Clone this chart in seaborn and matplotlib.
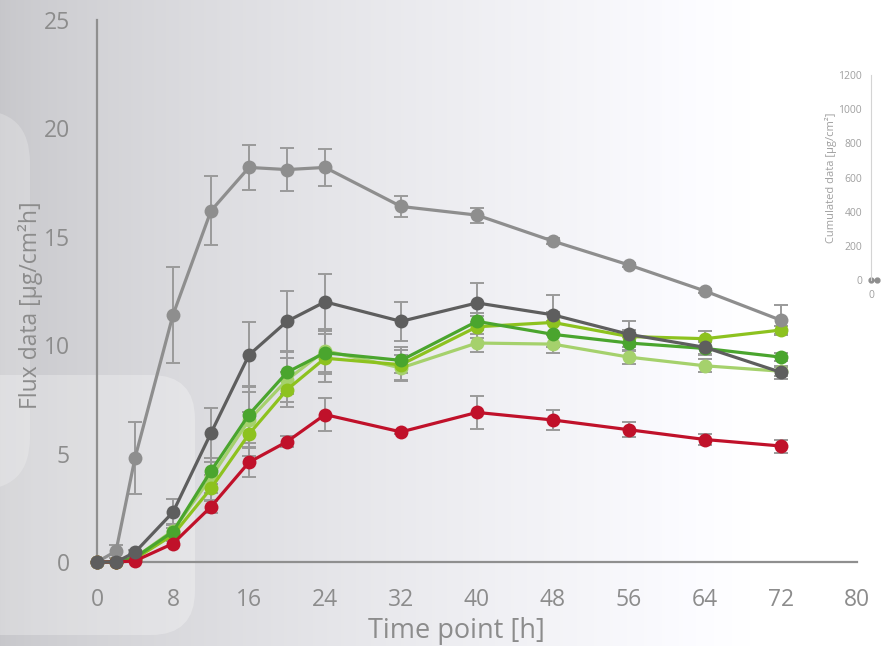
import numpy as np
import pandas as pd
import matplotlib
matplotlib.use("Agg")
import matplotlib.pyplot as plt
from matplotlib.patches import FancyBboxPatch
import seaborn as sns

# ---------------- data ----------------
time_h = [0, 2, 4, 8, 12, 16, 20, 24, 32, 40, 48, 56, 64, 72]

light_gray = [0, 0.5, 4.8, 11.4, 16.2, 18.2, 18.1, 18.2, 16.4, 16.0, 14.8, 13.7, 12.5, 11.15]
light_gray_err = [0, 0.3, 1.65, 2.2, 1.6, 1.05, 1.0, 0.85, 0.5, 0.35, 0.15, 0.1, 0.1, 0.7]

dark_gray = [0, 0, 0.45, 2.3, 5.95, 9.55, 11.1, 12.0, 11.1, 11.95, 11.4, 10.5, 9.9, 8.75]
dark_gray_err = [0, 0, 0.1, 0.6, 1.15, 1.5, 1.4, 1.3, 0.9, 0.9, 0.9, 0.6, 0.3, 0.3]

green = [0, 0, 0.2, 1.4, 4.2, 6.8, 8.75, 9.65, 9.3, 11.1, 10.5, 10.1, 9.85, 9.45]
green_err = [0, 0, 0.1, 0.3, 0.6, 1.3, 1.0, 1.0, 0.6, 0.4, 0.6, 0.3, 0.3, 0.2]

light_green = [0, 0, 0.2, 1.45, 3.9, 6.55, 8.4, 9.75, 8.95, 10.1, 10.05, 9.45, 9.05, 8.8]
light_green_err = [0, 0, 0.1, 0.3, 0.7, 1.3, 1.0, 1.0, 0.6, 0.4, 0.4, 0.3, 0.3, 0.2]

yellow_green = [0, 0, 0.15, 1.25, 3.4, 5.9, 7.95, 9.4, 9.1, 10.85, 11.05, 10.4, 10.3, 10.7]
yellow_green_err = [0, 0, 0.1, 0.3, 0.6, 1.0, 0.8, 1.1, 0.7, 0.5, 0.5, 0.3, 0.35, 0.2]

red = [0, 0, 0.05, 0.85, 2.55, 4.6, 5.55, 6.8, 6.0, 6.9, 6.55, 6.1, 5.65, 5.35]
red_err = [0, 0, 0, 0.1, 0.3, 0.7, 0.25, 0.78, 0.1, 0.75, 0.45, 0.35, 0.25, 0.3]

# inset (cumulated data), only the visible first points
cum_time = [0, 2]
cum_values = [0, 0]

x_ticks = [0, 8, 16, 24, 32, 40, 48, 56, 64, 72, 80]
y_ticks = [0, 5, 10, 15, 20, 25]
inset_ticks = [0, 200, 400, 600, 800, 1000, 1200]

series = {
    "light_green": (light_green, light_green_err, "#a5d16c"),
    "yellow_green": (yellow_green, yellow_green_err, "#8dc21f"),
    "green": (green, green_err, "#4aa52e"),
    "red": (red, red_err, "#c0112a"),
    "light_gray": (light_gray, light_gray_err, "#8e8e8e"),
    "dark_gray": (dark_gray, dark_gray_err, "#5e5e5e"),
}

rows = []
for name, (vals, errs, col) in series.items():
    for t, v in zip(time_h, vals):
        rows.append({"t": t, "flux": v, "series": name})
df = pd.DataFrame(rows)

# ---------------- figure ----------------
sns.set_theme(style="white")
plt.rcParams["font.family"] = ["Open Sans", "DejaVu Sans"]

W, H = 882, 646
fig = plt.figure(figsize=(W / 100, H / 100), dpi=100)

# background gradient
bg = fig.add_axes([0, 0, 1, 1], zorder=-10)
xs = np.linspace(0, 1, 600)
v = 0.78 + 0.22 * np.clip(xs / 0.85, 0, 1) ** 0.75
grad = np.zeros((2, 600, 3))
grad[..., 0] = v
grad[..., 1] = v
grad[..., 2] = np.clip(v + 0.015, 0, 1)
bg.imshow(grad, aspect="auto", extent=[0, 1, 0, 1], origin="lower")
bg.add_patch(FancyBboxPatch((-0.1, 1 - 490 / H), 0.1 + 30 / W, (490 - 110) / H,
                            boxstyle="round,pad=0,rounding_size=0.06",
                            fc="white", ec="none", alpha=0.22, mutation_aspect=W / H))
bg.add_patch(FancyBboxPatch((-0.1, 1 - 635 / H), 0.1 + 195 / W, (635 - 375) / H,
                            boxstyle="round,pad=0,rounding_size=0.05",
                            fc="white", ec="none", alpha=0.28, mutation_aspect=W / H))
bg.set_xlim(0, 1)
bg.set_ylim(0, 1)
bg.axis("off")

ax = fig.add_axes([97 / W, 1 - 562 / H, (857 - 97) / W, (562 - 20) / H])
ax.set_facecolor("none")

# error bars
for name, (vals, errs, col) in series.items():
    ax.errorbar(time_h, vals, yerr=errs, fmt="none", ecolor="#9a9a9a",
                elinewidth=1.4, capsize=5, capthick=1.4, zorder=1, clip_on=False)

palette = {k: v[2] for k, v in series.items()}
sns.lineplot(data=df, x="t", y="flux", hue="series", hue_order=list(series.keys()),
             palette=palette, marker="o", markersize=10, markeredgewidth=0,
             linewidth=2.3, legend=False, ax=ax, zorder=3, clip_on=False)

ax.set_xlim(0, 80)
ax.set_ylim(0, 25)
ax.set_xticks(x_ticks)
ax.set_yticks(y_ticks)
axis_col = "#8f8f8f"
txt_col = "#8c8c8c"
for s in ["top", "right"]:
    ax.spines[s].set_visible(False)
for s in ["left", "bottom"]:
    ax.spines[s].set_color(axis_col)
    ax.spines[s].set_linewidth(1.6)
ax.tick_params(axis="both", colors=axis_col, labelcolor=txt_col, labelsize=16.5,
               length=6.5, width=1.4, direction="out")
ax.tick_params(axis="x", pad=12.5)
ax.tick_params(axis="y", pad=13)
ax.set_xlabel("Time point [h]", fontsize=19.5, color=txt_col)
ax.set_ylabel("Flux data [µg/cm²h]", fontsize=16.5, color=txt_col)
ax.xaxis.set_label_coords((456.5 - 97) / 760, -(617 - 562) / 542)
ax.yaxis.set_label_coords((43 - 97) / 760, (562 - 305) / 542)

# inset axes (cumulated data)
ins = fig.add_axes([871 / W, 1 - 280 / H, 240 / W, (280 - 75) / H])
ins.set_facecolor("none")
ins.plot(cum_time, cum_values, marker="o", markersize=3.5, color="#8e8e8e",
         linewidth=1, clip_on=False)
ins.set_xlim(0, 80)
ins.set_ylim(0, 1200)
ins.set_yticks(inset_ticks)
ins.set_xticks([0])
for s in ["top", "right", "bottom"]:
    ins.spines[s].set_visible(False)
ins.spines["left"].set_color("#d4d4d4")
ins.spines["left"].set_linewidth(0.8)
ins.tick_params(axis="both", length=0, labelsize=7.5, labelcolor="#a0a0a0", pad=6.5)
ins.tick_params(axis="x", pad=7)
ins.set_ylabel("Cumulated data [µg/cm²]", fontsize=8, color="#a0a0a0", labelpad=1)

fig.savefig("out.png", dpi=100)
